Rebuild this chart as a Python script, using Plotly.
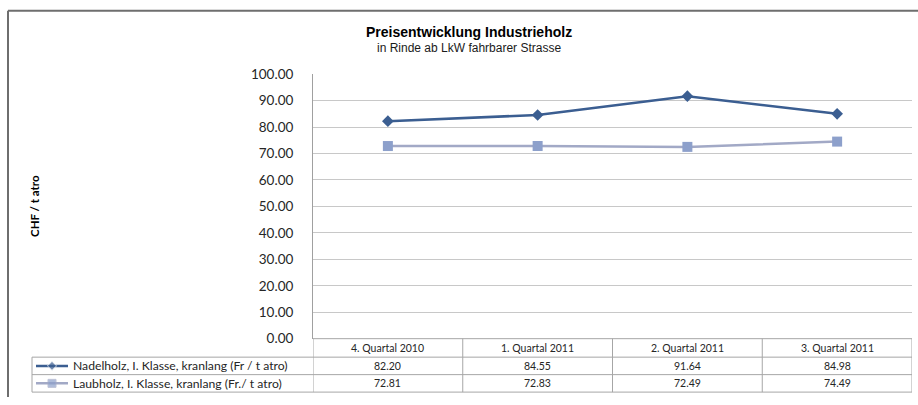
import plotly.graph_objects as go

W, H = 918, 405

categories = ["4. Quartal 2010", "1. Quartal 2011", "2. Quartal 2011", "3. Quartal 2011"]
series_names = ["Nadelholz, I. Klasse, kranlang (Fr / t atro)",
                "Laubholz, I. Klasse, kranlang (Fr./ t atro)"]
nadelholz = [82.20, 84.55, 91.64, 84.98]
laubholz = [72.81, 72.83, 72.49, 74.49]
y_ticks = [0, 10, 20, 30, 40, 50, 60, 70, 80, 90, 100]

title = "Preisentwicklung Industrieholz"
subtitle = "in Rinde ab LkW fahrbarer Strasse"
y_title = "CHF / t atro"

line_colors = ["#3B5E91", "#A2A9C6"]
marker_colors = ["#3B5E91", "#8DA0CB"]
symbols = ["diamond", "square"]
marker_sizes = [9, 10]

# observed vertical mapping of the photographed page: shown_y = 7.8 + 0.962 * layout_y
V_OFF, V_SCALE = 7.8, 0.962


def py(p):
    """target pixel row in the photo -> paper fraction"""
    q = (p - V_OFF) / V_SCALE
    return min(1.0, max(0.0, (H - q) / H))


def px(p):
    """target pixel column -> paper fraction"""
    return min(1.0, max(0.0, p / W))


PLOT_L, PLOT_R = 313, 912
PLOT_T, PLOT_B = 74, 339
ROWS = [339, 357.5, 375, 392.5]
TABLE_L = 32

fig = go.Figure()
all_series = [nadelholz, laubholz]
for i, vals in enumerate(all_series):
    fig.add_trace(go.Scatter(
        x=categories, y=vals, mode="lines+markers", name=series_names[i],
        line=dict(color=line_colors[i], width=2.5),
        marker=dict(symbol=symbols[i], size=marker_sizes[i], color=marker_colors[i]),
        showlegend=False, xaxis="x", yaxis="y", cliponaxis=False,
    ))
    # legend key inside the data table
    fig.add_trace(go.Scatter(
        x=[0, 0.5, 1], y=[i, i, i], mode="lines+markers",
        line=dict(color=line_colors[i], width=2.5),
        marker=dict(symbol=symbols[i], size=[0, marker_sizes[i] - 2, 0], color=marker_colors[i]),
        showlegend=False, xaxis="x2", yaxis="y2", hoverinfo="skip", cliponaxis=False,
    ))

annotations = [
    dict(text=f"<b>{title}</b>", x=px(469), y=py(32), xref="paper", yref="paper",
         showarrow=False, xanchor="center", yanchor="middle",
         font=dict(family="Liberation Sans", size=14, color="#000000")),
    dict(text=subtitle, x=px(469), y=py(48), xref="paper", yref="paper",
         showarrow=False, xanchor="center", yanchor="middle",
         font=dict(family="Liberation Sans", size=12, color="#1A1A1A")),
    dict(text=f"<b>{y_title}</b>", x=px(35), y=py(206), xref="paper", yref="paper",
         showarrow=False, textangle=-90, xanchor="center", yanchor="middle",
         font=dict(family="Lato", size=11.5, color="#000000")),
]

tfont = dict(family="Lato", size=10.5, color="#262626")
lfont = dict(family="Lato", size=12.2, color="#262626")
row_centers = [(ROWS[k] + ROWS[k + 1]) / 2 for k in range(3)]
for j, c in enumerate(categories):
    annotations.append(dict(text=c, x=j, y=py(row_centers[0]), xref="x", yref="paper",
                            showarrow=False, xanchor="center", yanchor="middle", font=tfont))
    for i, vals in enumerate(all_series):
        annotations.append(dict(text=f"{vals[j]:.2f}", x=j, y=py(row_centers[i + 1]),
                                xref="x", yref="paper", showarrow=False,
                                xanchor="center", yanchor="middle", font=tfont))
for i, name in enumerate(series_names):
    annotations.append(dict(text=name, x=px(71), y=py(row_centers[i + 1]), xref="paper",
                            yref="paper", showarrow=False, xanchor="left", yanchor="middle",
                            font=lfont))

shapes = []
grid_col = "#A6A6A6"
shapes.append(dict(type="line", xref="paper", yref="paper", x0=px(PLOT_L), x1=px(PLOT_R),
                   y0=py(ROWS[0]), y1=py(ROWS[0]), line=dict(color=grid_col, width=1)))
for r in ROWS[1:]:
    shapes.append(dict(type="line", xref="paper", yref="paper", x0=px(TABLE_L), x1=px(PLOT_R),
                       y0=py(r), y1=py(r), line=dict(color=grid_col, width=1)))
shapes.append(dict(type="line", xref="paper", yref="paper", x0=px(TABLE_L), x1=px(TABLE_L),
                   y0=py(ROWS[1]), y1=py(ROWS[3]), line=dict(color=grid_col, width=1)))
for k in range(len(categories) + 1):
    shapes.append(dict(type="line", xref="x", yref="paper", x0=k - 0.5, x1=k - 0.5,
                       y0=py(ROWS[0]), y1=py(ROWS[3]), line=dict(color=grid_col, width=1)))
# outer chart frame (top and left visible)
shapes.append(dict(type="line", xref="paper", yref="paper", x0=px(8), x1=1.0,
                   y0=py(10.5), y1=py(10.5), line=dict(color="#6E6E6E", width=2)))
shapes.append(dict(type="line", xref="paper", yref="paper", x0=px(8), x1=px(8),
                   y0=py(10.5), y1=0.0, line=dict(color="#6E6E6E", width=2)))

fig.update_layout(
    width=W, height=H, autosize=False,
    margin=dict(l=0, r=0, t=0, b=0),
    paper_bgcolor="white", plot_bgcolor="white",
    xaxis=dict(domain=[px(PLOT_L), px(PLOT_R)], range=[-0.5, 3.5], showticklabels=False,
               showgrid=False, zeroline=False, showline=False, type="category"),
    yaxis=dict(domain=[py(PLOT_B), py(PLOT_T)], range=[0, 100], tickvals=y_ticks,
               tickformat=".2f", gridcolor="#C8C8C8", gridwidth=1, zeroline=False,
               showline=True, linecolor="#A0A0A0", linewidth=1, ticks="",
               ticklabelstandoff=16,
               tickfont=dict(family="Lato", size=13.5, color="#262626")),
    xaxis2=dict(domain=[px(36), px(68)], range=[0, 1], visible=False, anchor="y2"),
    yaxis2=dict(domain=[py(ROWS[3]), py(ROWS[1])], range=[1.5, -0.5], visible=False, anchor="x2"),
    annotations=annotations,
    shapes=shapes,
    showlegend=False,
)

fig.write_html(
    "out.html",
    config=dict(displayModeBar=False),
    post_script="document.documentElement.style.margin='0';document.body.style.margin='0';"
                "document.body.style.overflow='hidden';",
)
